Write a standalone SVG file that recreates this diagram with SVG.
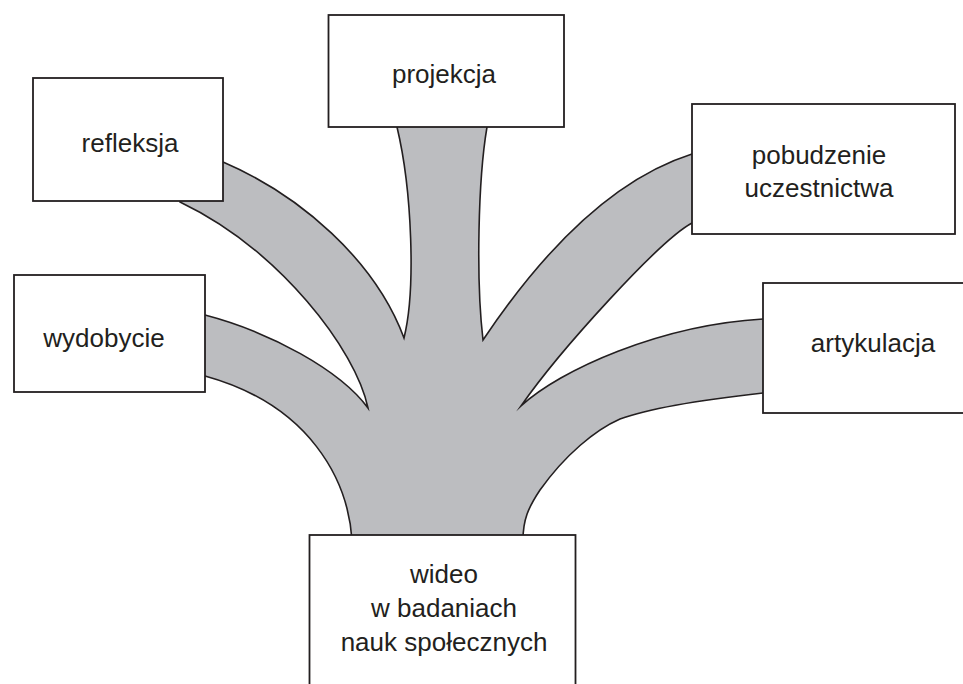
<svg xmlns="http://www.w3.org/2000/svg" width="963" height="684" viewBox="0 0 963 684">
<style>
.box{fill:#ffffff;stroke:#231f20;stroke-width:1.8}
.lbl{font-family:"Liberation Sans",Arial,Helvetica,sans-serif;font-size:26px;fill:#231f20;text-anchor:middle}
.branch{fill:#bcbdc0;stroke:#231f20;stroke-width:1.6;stroke-linejoin:miter;stroke-miterlimit:20}
</style>
<rect width="963" height="684" fill="#ffffff"/>
<g id="connectors">
<path class="branch" d="M 352,540 C 348,480 310,405 205,376 L 190,376 L 190,315 L 205,315 C 270,332 340,370 368,408 C 356,350 280,250 180,202 L 180,190 L 210,162 L 223,162 C 300,195 375,260 404,338 C 416,290 412,190 397,127 L 397,118 L 487,118 L 487,127 C 478,180 476,280 483,340 C 540,255 610,180 692,154 L 700,154 L 700,223 L 692,223 C 660,240 560,350 521,406 C 560,370 660,325 763,319 L 770,319 L 770,393 L 763,393 C 700,400 650,408 620,419 C 595,430 565,455 540,490 C 528,508 523,520 523,540 Z"/>
</g>
<g id="node-refleksja">
<rect class="box" x="33" y="78" width="190" height="123"/>
<text class="lbl" x="130" y="152">refleksja</text>
</g>
<g id="node-projekcja">
<rect class="box" x="328.5" y="15" width="235.5" height="112"/>
<text class="lbl" x="444" y="83">projekcja</text>
</g>
<g id="node-pobudzenie">
<rect class="box" x="692" y="104" width="263" height="130"/>
<text class="lbl" x="819" y="164">pobudzenie</text>
<text class="lbl" x="819" y="197">uczestnictwa</text>
</g>
<g id="node-wydobycie">
<rect class="box" x="14" y="275" width="191" height="117"/>
<text class="lbl" x="104" y="347">wydobycie</text>
</g>
<g id="node-artykulacja">
<rect class="box" x="763" y="283" width="230" height="130"/>
<text class="lbl" x="873" y="352">artykulacja</text>
</g>
<g id="node-wideo">
<rect class="box" x="309.5" y="535" width="266" height="170"/>
<text class="lbl" x="444" y="583">wideo</text>
<text class="lbl" x="444" y="617">w badaniach</text>
<text class="lbl" x="444" y="651">nauk społecznych</text>
</g>
</svg>
